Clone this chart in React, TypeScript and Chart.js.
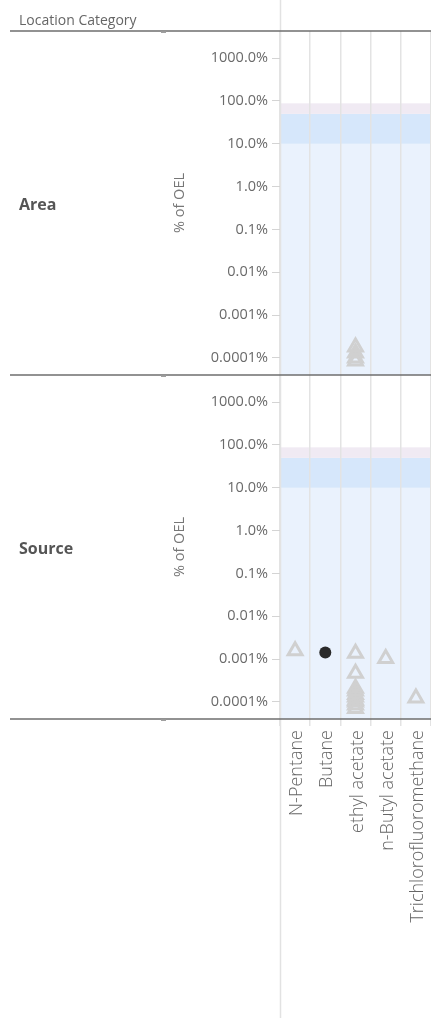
import React, { useEffect, useRef } from 'react';
import { Chart, registerables } from 'chart.js';

Chart.register(...registerables);

const FONT = '"Open Sans", "DejaVu Sans", sans-serif';

const categories = ['N-Pentane', 'Butane', 'ethyl acetate', 'n-Butyl acetate', 'Trichlorofluoromethane'];
const panelNames = ['Area', 'Source'];
const headerText = 'Location Category';
const yAxisTitle = '% of OEL';

const yTickValues = [0.0001, 0.001, 0.01, 0.1, 1, 10, 100, 1000];
const yTickLabels = ['0.0001%', '0.001%', '0.01%', '0.1%', '1.0%', '10.0%', '100.0%', '1000.0%'];
const yMin = 0.00004;
const yMax = 4300;

// exposure bands (% of OEL)
const bandFrom = [0, 10, 50];
const bandTo = [10, 50, 88];
const bandColors = ['#eaf2fd', '#d6e7fb', '#f0eaf3'];

// Area panel – triangles
const areaTriCats = ['ethyl acetate', 'ethyl acetate', 'ethyl acetate', 'ethyl acetate'];
const areaTriValues = [0.00018, 0.00013, 0.0001, 0.000085];

// Source panel – triangles
const sourceTriCats = [
  'N-Pentane',
  'ethyl acetate', 'ethyl acetate', 'ethyl acetate', 'ethyl acetate', 'ethyl acetate',
  'ethyl acetate', 'ethyl acetate', 'ethyl acetate', 'ethyl acetate', 'ethyl acetate',
  'n-Butyl acetate',
  'Trichlorofluoromethane',
];
const sourceTriValues = [
  0.00156,
  0.00138, 0.00047, 0.00021, 0.00018, 0.00015, 0.00013, 0.00011, 0.0001, 0.000085, 0.00007,
  0.00103,
  0.000124,
];

// Source panel – circles
const sourceCircleCats = ['Butane'];
const sourceCircleValues = [0.00143];

const toPoints = (cats: string[], vals: number[]) => cats.map((c, i) => ({ x: c, y: vals[i] }));

const decorPlugin = {
  id: 'decor',
  beforeDraw(chart: any) {
    const { ctx, chartArea } = chart;
    ctx.save();
    ['yArea', 'ySource'].forEach((id) => {
      const s = chart.scales[id];
      bandFrom.forEach((f, i) => {
        const yb = f <= 0 ? s.bottom : s.getPixelForValue(f);
        const yt = s.getPixelForValue(bandTo[i]);
        ctx.fillStyle = bandColors[i];
        ctx.fillRect(chartArea.left, yt, chartArea.right - chartArea.left, yb - yt);
      });
    });
    ctx.strokeStyle = '#e2e2e2';
    ctx.lineWidth = 1.5;
    ctx.beginPath();
    ctx.moveTo(chartArea.left + 0.5, 0);
    ctx.lineTo(chartArea.left + 0.5, chart.height);
    ctx.stroke();
    ctx.restore();
  },
  afterDraw(chart: any) {
    const { ctx, chartArea } = chart;
    const sA = chart.scales.yArea;
    const sS = chart.scales.ySource;
    ctx.save();
    // separator lines
    ctx.strokeStyle = '#6e6e6e';
    ctx.lineWidth = 1.3;
    [chartArea.top, sA.bottom, chartArea.bottom].forEach((y: number) => {
      ctx.beginPath();
      ctx.moveTo(10, y);
      ctx.lineTo(chart.width, y);
      ctx.stroke();
      ctx.fillStyle = '#a0a0a0';
      ctx.fillRect(161, y + 0.5, 5, 1.5);
    });
    // header
    ctx.fillStyle = '#666';
    ctx.font = `14px ${FONT}`;
    ctx.textAlign = 'left';
    ctx.textBaseline = 'alphabetic';
    ctx.fillText(headerText, 19, 25);
    // panel labels
    [sA, sS].forEach((s: any, i: number) => {
      const cy = (s.top + s.bottom) / 2;
      ctx.fillStyle = '#555';
      ctx.font = `bold 16px ${FONT}`;
      ctx.textAlign = 'left';
      ctx.textBaseline = 'middle';
      ctx.fillText(panelNames[i], 19, cy + 2);
      ctx.save();
      ctx.translate(180, cy);
      ctx.rotate(-Math.PI / 2);
      ctx.fillStyle = '#777';
      ctx.font = `14.5px ${FONT}`;
      ctx.textAlign = 'center';
      ctx.textBaseline = 'middle';
      ctx.fillText(yAxisTitle, 0, 0);
      ctx.restore();
    });
    ctx.restore();
  },
};

const yScale = () => ({
  type: 'logarithmic',
  position: 'left',
  stack: 'panels',
  stackWeight: 1,
  min: yMin,
  max: yMax,
  border: { display: false },
  grid: { drawOnChartArea: false, drawTicks: true, tickLength: 8, color: '#d4d4d4', lineWidth: 1 },
  afterBuildTicks: (s: any) => {
    s.ticks = yTickValues.map((v) => ({ value: v }));
  },
  ticks: {
    padding: 4,
    color: '#6a6a6a',
    font: { family: FONT, size: 14.5 },
    callback: (_v: any, i: number) => yTickLabels[i],
  },
  afterFit: (s: any) => {
    s.width = 280;
    s.paddingTop = 0;
    s.paddingBottom = 0;
  },
});

export default function App() {
  const ref = useRef<HTMLCanvasElement | null>(null);
  useEffect(() => {
    if (!ref.current) return;
    const tri = {
      pointStyle: 'triangle',
      pointRadius: 8,
      pointHoverRadius: 8,
      pointBorderWidth: 3,
      pointBackgroundColor: 'rgba(0,0,0,0)',
      pointBorderColor: '#d0d0d0',
      showLine: false,
    };
    const chart = new Chart(ref.current, {
      type: 'line',
      data: {
        labels: categories,
        datasets: [
          { ...tri, label: 'Area', data: toPoints(areaTriCats, areaTriValues), yAxisID: 'yArea' } as any,
          { ...tri, label: 'Source', data: toPoints(sourceTriCats, sourceTriValues), yAxisID: 'ySource' } as any,
          {
            label: 'Source circles',
            data: toPoints(sourceCircleCats, sourceCircleValues),
            yAxisID: 'ySource',
            showLine: false,
            pointStyle: 'circle',
            pointRadius: 6,
            pointBorderWidth: 0,
            pointBackgroundColor: '#2a2a2a',
            pointBorderColor: '#2a2a2a',
          } as any,
        ],
      },
      options: {
        animation: false,
        responsive: false,
        maintainAspectRatio: false,
        layout: { autoPadding: false, padding: { top: 31, left: 0, right: 0, bottom: 0 } },
        plugins: { legend: { display: false }, tooltip: { enabled: false } },
        events: [],
        scales: {
          x: {
            type: 'category',
            labels: categories,
            offset: true,
            border: { display: false },
            grid: { offset: true, color: '#e3e3e3', lineWidth: 1.5, tickLength: 7 },
            ticks: {
              autoSkip: false,
              minRotation: 90,
              maxRotation: 90,
              padding: 4,
              labelOffset: 2,
              color: '#666',
              font: { family: FONT, size: 18, weight: '300' },
            },
            afterFit: (s: any) => {
              s.height = 299;
              s.paddingLeft = 0;
              s.paddingRight = 0;
            },
          },
          ySource: yScale(),
          yArea: yScale(),
        } as any,
      },
      plugins: [decorPlugin],
    } as any);
    return () => chart.destroy();
  }, []);
  return (
    <div style={{ position: 'absolute', left: 0, top: 0, width: 431, height: 1018 }}>
      <canvas ref={ref} width={431} height={1018} style={{ width: 431, height: 1018, display: 'block' }} />
    </div>
  );
}
